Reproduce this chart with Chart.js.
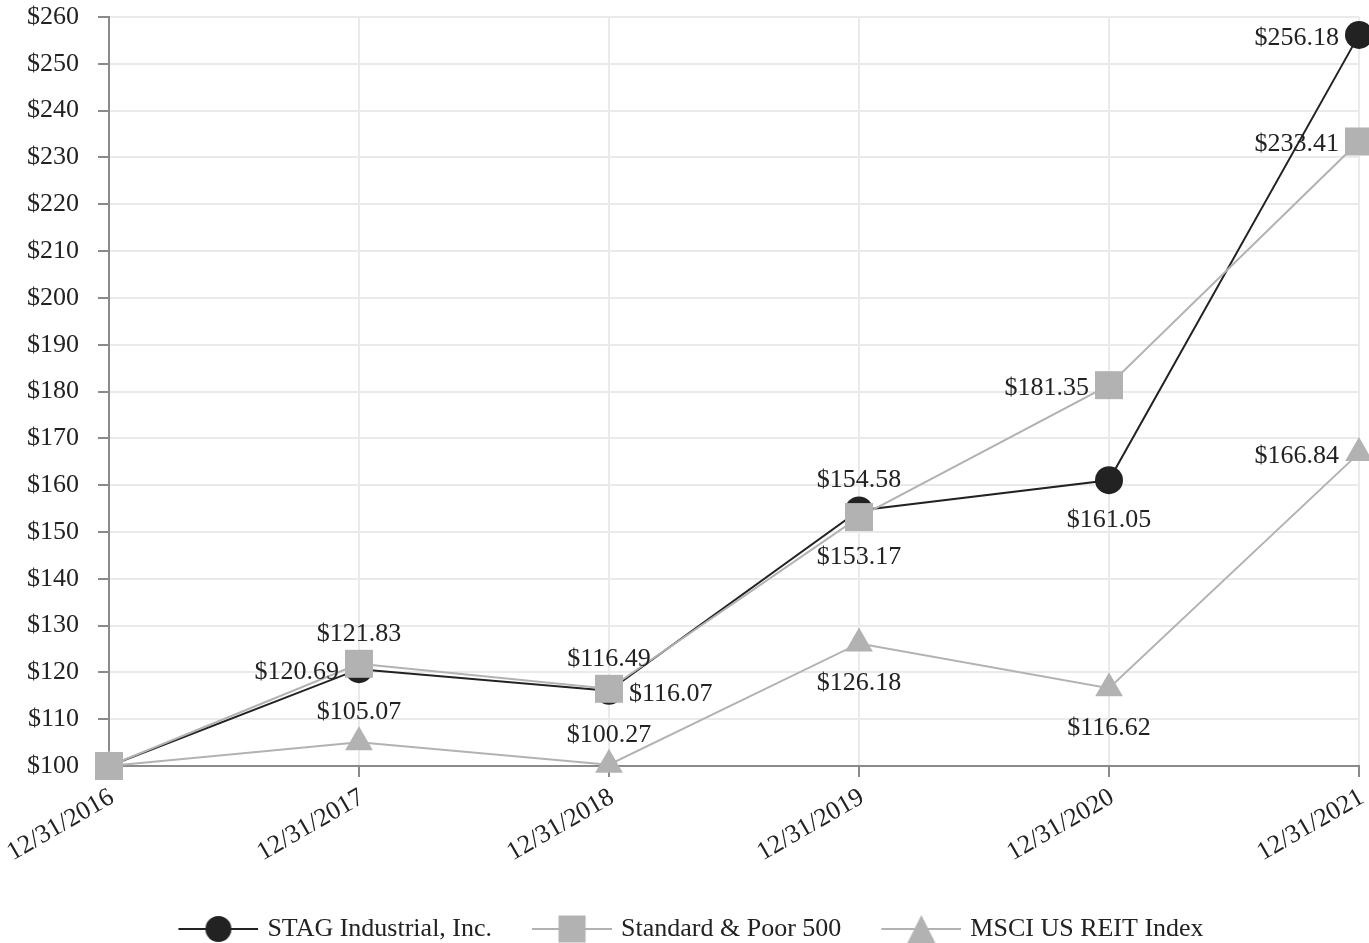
<!DOCTYPE html>
<html><head><meta charset="utf-8">
<script src="https://cdn.jsdelivr.net/npm/chart.js@4.4.0/dist/chart.umd.min.js"></script>
<style>html,body{margin:0;padding:0;background:#fff;overflow:hidden}</style>
</head><body>
<canvas id="c" width="1369" height="943" style="display:block;width:1369px;height:943px"></canvas>
<script>
const categories = ['12/31/2016','12/31/2017','12/31/2018','12/31/2019','12/31/2020','12/31/2021'];
const seriesNames = ['STAG Industrial, Inc.', 'Standard & Poor 500', 'MSCI US REIT Index'];
const stagValues = [100, 120.69, 116.07, 154.58, 161.05, 256.18];
const sp500Values = [100, 121.83, 116.49, 153.17, 181.35, 233.41];
const reitValues = [100, 105.07, 100.27, 126.18, 116.62, 166.84];
const yMin = 100, yMax = 260, yStep = 10;

// where each value label sits relative to its point (null = no label)
const stagLabelPos = [null, 'left', 'right', 'above', 'below', 'left'];
const sp500LabelPos = [null, 'above', 'above', 'below', 'left', 'left'];
const reitLabelPos = [null, 'above', 'above', 'below', 'below', 'left'];
const labelPlacements = [stagLabelPos, sp500LabelPos, reitLabelPos];

const FONT = "'Liberation Serif', 'Times New Roman', serif";
const FSIZE = 26;
const TEXT = '#222222';
const DARK = '#222222';
const GRAY = '#b2b2b2';
const AXIS = '#8a8a8a';
const GRID = '#eaeaea';

Chart.defaults.font.family = FONT;
Chart.defaults.color = TEXT;

function makeIcon(kind, lineColor, fill) {
  const c = document.createElement('canvas');
  c.width = 114; c.height = 30;
  const g = c.getContext('2d');
  g.strokeStyle = lineColor; g.lineWidth = 2;
  g.beginPath(); g.moveTo(34, 15); g.lineTo(114, 15); g.stroke();
  g.fillStyle = fill;
  const cx = 74;
  if (kind === 'circle') { g.beginPath(); g.arc(cx, 15, 13, 0, Math.PI * 2); g.fill(); }
  else if (kind === 'rect') { g.fillRect(cx - 13.5, 1.5, 27, 27); }
  else { g.beginPath(); g.moveTo(cx, 1); g.lineTo(cx + 14, 29); g.lineTo(cx - 14, 29); g.closePath(); g.fill(); }
  return c;
}
const legendIcons = [
  makeIcon('circle', DARK, DARK),
  makeIcon('rect', GRAY, GRAY),
  makeIcon('triangle', GRAY, GRAY)
];

const valueLabels = {
  id: 'valueLabels',
  afterDatasetsDraw(chart) {
    const ctx = chart.ctx;
    ctx.save();
    ctx.font = FSIZE + 'px ' + FONT;
    ctx.fillStyle = TEXT;
    chart.data.datasets.forEach((ds, di) => {
      const meta = chart.getDatasetMeta(di);
      const placement = labelPlacements[di];
      meta.data.forEach((pt, i) => {
        const p = placement[i];
        if (!p) return;
        const txt = '$' + ds.data[i].toFixed(2);
        let x = pt.x, y = pt.y + 3;
        ctx.textBaseline = 'middle';
        if (p === 'left') { ctx.textAlign = 'right'; x -= 20; }
        else if (p === 'right') { ctx.textAlign = 'left'; x += 20; }
        else if (p === 'above') { ctx.textAlign = 'center'; y -= 33; }
        else { ctx.textAlign = 'center'; y += 37; }
        ctx.fillText(txt, x, y);
      });
    });
    ctx.restore();
  }
};

new Chart(document.getElementById('c'), {
  type: 'line',
  data: {
    labels: categories,
    datasets: [
      { label: seriesNames[0], data: stagValues, borderColor: DARK, backgroundColor: DARK,
        pointBackgroundColor: DARK, pointStyle: 'circle', pointRadius: 14, pointHoverRadius: 14,
        pointBorderWidth: 0, borderWidth: 2, order: 3, clip: false },
      { label: seriesNames[1], data: sp500Values, borderColor: GRAY, backgroundColor: GRAY,
        pointBackgroundColor: GRAY, pointStyle: 'rect', pointRadius: 19.8, pointHoverRadius: 19.8,
        pointBorderWidth: 0, borderWidth: 2, order: 2, clip: false },
      { label: seriesNames[2], data: reitValues, borderColor: GRAY, backgroundColor: GRAY,
        pointBackgroundColor: GRAY, pointStyle: 'triangle', pointRadius: 16, pointHoverRadius: 16,
        pointBorderWidth: 0, borderWidth: 2, order: 1, clip: false }
    ]
  },
  options: {
    responsive: false,
    animation: false,
    layout: { autoPadding: false, padding: { top: 17, left: -7, right: 10, bottom: -9 } },
    plugins: {
      tooltip: { enabled: false },
      legend: {
        position: 'bottom',
        labels: {
          usePointStyle: true,
          pointStyleWidth: 106,
          padding: 10,
          color: TEXT,
          font: { size: FSIZE, family: FONT },
          generateLabels(chart) {
            return chart.data.datasets.map((ds, i) => ({
              text: ds.label, pointStyle: legendIcons[i], datasetIndex: i,
              fillStyle: ds.borderColor, strokeStyle: ds.borderColor, lineWidth: 0,
              hidden: false, fontColor: TEXT
            }));
          }
        }
      }
    },
    scales: {
      x: {
        offset: false,
        grid: { color: GRID, lineWidth: 2, tickColor: AXIS, tickWidth: 2, tickLength: 11 },
        border: { color: AXIS, width: 2 },
        ticks: { autoSkip: false, maxRotation: 30, minRotation: 30, padding: 5, labelOffset: 3,
                 color: TEXT, font: { size: FSIZE, family: FONT } },
        afterFit(scale) { scale.height = 140; scale.paddingLeft = 0; scale.paddingRight = 0; }
      },
      y: {
        min: yMin, max: yMax,
        grid: { color: GRID, lineWidth: 2, tickColor: AXIS, tickWidth: 2, tickLength: 11 },
        border: { color: AXIS, width: 2 },
        ticks: { stepSize: yStep, padding: 19, color: TEXT, font: { size: FSIZE, family: FONT },
                 callback: (v) => '$' + v },
        afterFit(scale) { scale.width = 116; scale.paddingTop = 0; scale.paddingBottom = 0; }
      }
    }
  },
  plugins: [valueLabels]
});
</script>
</body></html>
